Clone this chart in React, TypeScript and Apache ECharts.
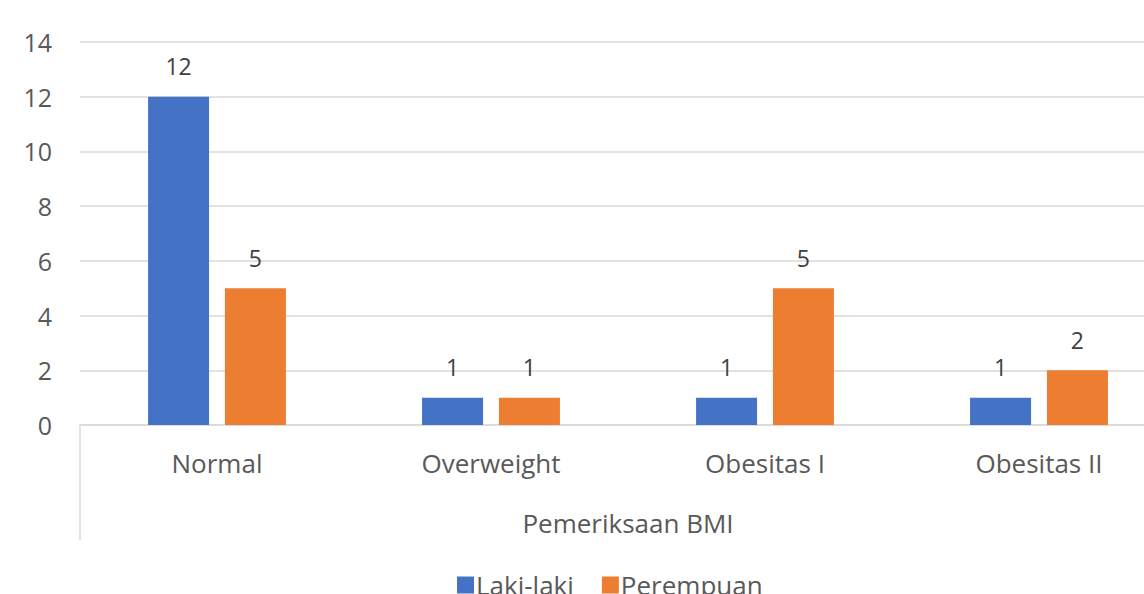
import React, { useEffect, useRef } from "react";
import * as echarts from "echarts";

const categories = ["Normal", "Overweight", "Obesitas I", "Obesitas II"];
const groupLabel = ["Pemeriksaan BMI"];
const lakiLaki = [12, 1, 1, 1];
const perempuan = [5, 1, 5, 2];
const yMin = 0;
const yMax = 14;
const yStep = 2;

const FONT = "'Open Sans', 'Noto Sans', sans-serif";
const TEXT = "#595959";
const GRID = "#d9d9d9";

export default function App() {
  const ref = useRef<HTMLDivElement>(null);
  useEffect(() => {
    if (!ref.current) return;
    const chart = echarts.init(ref.current, undefined, { renderer: "svg" });
    chart.setOption({
      animation: false,
      backgroundColor: "#ffffff",
      textStyle: { fontFamily: FONT },
      grid: { left: 80, top: 42, width: 1096, height: 383, containLabel: false },
      legend: {
        left: 452,
        top: 567,
        itemWidth: 17,
        itemHeight: 17,
        itemGap: 28,
        icon: "rect",
        textStyle: { fontFamily: FONT, fontSize: 26, color: TEXT, padding: [0, 0, 0, -3] },
        data: ["Laki-laki", "Perempuan"],
      },
      xAxis: [
        {
          type: "category",
          data: categories,
          position: "bottom",
          axisLine: { show: true, lineStyle: { color: GRID, width: 1.5 } },
          axisTick: { show: false },
          axisLabel: { margin: 25, fontSize: 26, color: TEXT, fontFamily: FONT },
        },
        {
          type: "category",
          data: groupLabel,
          position: "bottom",
          offset: 0,
          axisLine: { show: false },
          axisTick: { show: true, length: 115, lineStyle: { color: GRID, width: 1.5 } },
          axisLabel: { margin: 85, fontSize: 26, color: TEXT, fontFamily: FONT },
        },
      ],
      yAxis: {
        type: "value",
        min: yMin,
        max: yMax,
        interval: yStep,
        axisLine: { show: false },
        axisTick: { show: false },
        axisLabel: { margin: 28, fontSize: 25, color: TEXT, fontFamily: FONT },
        splitLine: { lineStyle: { color: GRID, width: 1.5 } },
      },
      series: [
        {
          name: "Laki-laki",
          type: "bar",
          xAxisIndex: 0,
          data: lakiLaki,
          barWidth: 61,
          barGap: "26%",
          itemStyle: { color: "#4472C4" },
          label: { show: true, position: "top", distance: 19, fontSize: 23, color: "#404040", fontFamily: FONT },
        },
        {
          name: "Perempuan",
          type: "bar",
          xAxisIndex: 0,
          data: perempuan,
          barWidth: 61,
          barGap: "26%",
          itemStyle: { color: "#ED7D31" },
          label: { show: true, position: "top", distance: 19, fontSize: 23, color: "#404040", fontFamily: FONT },
        },
      ],
    });
    return () => chart.dispose();
  }, []);
  return (
    <div style={{ position: "fixed", left: 0, top: 0, width: 1144, height: 594, overflow: "hidden", background: "#fff" }}>
      <div ref={ref} style={{ width: 1200, height: 620 }} />
    </div>
  );
}
